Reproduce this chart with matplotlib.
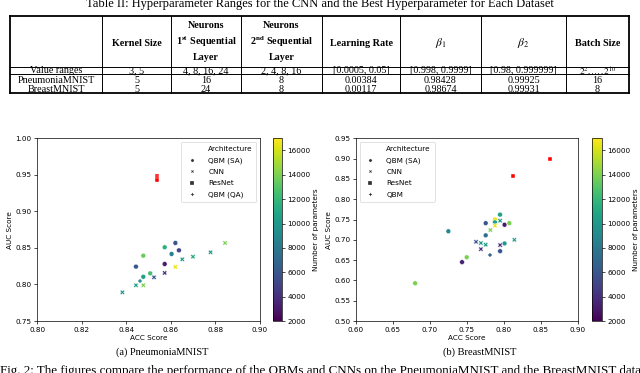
import matplotlib
matplotlib.use("Agg")
import matplotlib.pyplot as plt
from matplotlib.lines import Line2D

plt.rcParams["mathtext.fontset"] = "stix"

# ---- table contents ----
table_title = "Table II: Hyperparameter Ranges for the CNN and the Best Hyperparameter for Each Dataset"
header_lines = [
    [],
    ["Kernel Size"],
    ["Neurons", r"1$^{\mathbf{st}}$ Sequential", "Layer"],
    ["Neurons", r"2$^{\mathbf{nd}}$ Sequential", "Layer"],
    ["Learning Rate"],
    [r"$\beta_1$"],
    [r"$\beta_2$"],
    ["Batch Size"],
]
range_row = ["Value ranges", "3, 5", "4, 8, 16, 24", "2, 4, 8, 16", "[0.0005, 0.05]",
             "[0.998, 0.9999]", "[0.98, 0.999999]", r"$2^2,\ldots,2^{10}$"]
pneumonia_row = ["PneumoniaMNIST", "5", "16", "8", "0.00384", "0.98428", "0.99925", "16"]
breast_row = ["BreastMNIST", "5", "24", "8", "0.00117", "0.98674", "0.99931", "8"]

# ---- PneumoniaMNIST scores ----
pn_sa_acc = [0.8443, 0.8476, 0.8476, 0.8507, 0.8572, 0.8572, 0.8603, 0.8620, 0.8636]
pn_sa_auc = [0.8244, 0.8394, 0.8105, 0.8152, 0.8509, 0.8280, 0.8417, 0.8568, 0.8467]
pn_sa_par = [6000, 13500, 10500, 12500, 11500, 3000, 8500, 6000, 5000]

pn_cnn_acc = [0.8382, 0.8443, 0.8476, 0.8524, 0.8572, 0.8620, 0.8651, 0.8699, 0.8778, 0.8843]
pn_cnn_auc = [0.7892, 0.7989, 0.7989, 0.8098, 0.8158, 0.8240, 0.8344, 0.8380, 0.8440, 0.8568]
pn_cnn_par = [10000, 10500, 14000, 6000, 4000, 16500, 10000, 11000, 10000, 14000]

pn_res_acc = [0.8539, 0.8539, 0.8539]
pn_res_auc = [0.948, 0.945, 0.943]

pn_qa_acc = [0.8461]
pn_qa_auc = [0.8051]
pn_qa_par = [9500]

# ---- BreastMNIST scores ----
br_sa_acc = [0.7949, 0.788, 0.788, 0.7755, 0.801, 0.8075, 0.7755, 0.801, 0.795, 0.7498, 0.7435, 0.725, 0.680]
br_sa_auc = [0.762, 0.750, 0.743, 0.741, 0.737, 0.741, 0.711, 0.691, 0.672, 0.657, 0.645, 0.721, 0.593]
br_sa_par = [10500, 16500, 10500, 6000, 3000, 14000, 7500, 10000, 6000, 14000, 3500, 9000, 14000]

br_cnn_acc = [0.795, 0.788, 0.7818, 0.7624, 0.769, 0.7755, 0.769, 0.795, 0.8143]
br_cnn_auc = [0.747, 0.735, 0.724, 0.695, 0.692, 0.688, 0.677, 0.687, 0.700]
br_cnn_par = [10000, 16500, 14000, 6000, 10000, 10000, 4000, 4000, 10500]

br_res_acc = [0.862, 0.812]
br_res_auc = [0.900, 0.857]

br_qa_acc = [0.7818]
br_qa_auc = [0.663]
br_qa_par = [7000]

W, H = 640, 373
fig = plt.figure(figsize=(6.4, 3.73), dpi=100)

# overlay in pixel coordinates for table and captions
ov = fig.add_axes([0, 0, 1, 1])
ov.set_xlim(0, W)
ov.set_ylim(H, 0)
ov.axis("off")

serif = "Liberation Serif"
fs_tab = 7.3
col_x = [10, 102, 171, 241, 322, 400, 481, 566, 629]
row_y = [16, 67.3, 74.3, 93.3]

ov.text(320, 6.5, table_title, fontsize=9, family=serif, ha="center", va="baseline")

for i, x in enumerate(col_x):
    lw = 1.3 if i in (0, len(col_x) - 1) else 0.7
    ov.plot([x, x], [row_y[0], row_y[-1]], color="black", lw=lw)
for j, y in enumerate(row_y):
    lw = 1.3 if j in (0, len(row_y) - 1) else 0.7
    ov.plot([col_x[0], col_x[-1]], [y, y], color="black", lw=lw)

centers = [(col_x[i] + col_x[i + 1]) / 2 for i in range(len(col_x) - 1)]
for cx, lines in zip(centers, header_lines):
    if len(lines) == 1:
        ov.text(cx, 43, lines[0], fontsize=fs_tab + (1 if "beta" in lines[0] else 0),
                family=serif, fontweight="bold", ha="center", va="center")
    else:
        for ly, t in zip([26, 42, 57], lines):
            ov.text(cx, ly, t, fontsize=fs_tab, family=serif, fontweight="bold",
                    ha="center", va="center")
for k, (cx, a, b, c) in enumerate(zip(centers, range_row, pneumonia_row, breast_row)):
    ov.text(cx, 71.5 if k == 7 else 70.5, a, fontsize=6.6 if k == 7 else fs_tab,
            family=serif, ha="center", va="center")
    ov.text(cx, 80.7, b, fontsize=fs_tab, family=serif, ha="center", va="center")
    ov.text(cx, 89, c, fontsize=fs_tab, family=serif, ha="center", va="center")

ov.text(162, 352.5, "(a) PneumoniaMNIST", fontsize=7.5, family=serif, ha="center", va="center")
ov.text(479.5, 352.5, "(b) BreastMNIST", fontsize=7.5, family=serif, ha="center", va="center")
ov.text(0, 365, "Fig. 2: The figures compare the performance of the QBMs and CNNs on the "
        "PneumoniaMNIST and the BreastMNIST data", fontsize=9.4, family=serif,
        ha="left", va="top")

fs = 5.2
norm_kw = dict(cmap="viridis", vmin=2000, vmax=17000, s=12, edgecolors="white", linewidths=0.3)


def panel(rect, crect, sa, cnn, res, qa, xlim, ylim, xticks, yticks, qa_name, loc):
    ax = fig.add_axes([rect[0] / W, 1 - rect[3] / H, (rect[2] - rect[0]) / W, (rect[3] - rect[1]) / H])
    sc = ax.scatter(sa[0], sa[1], c=sa[2], marker="o", **norm_kw)
    ax.scatter(cnn[0], cnn[1], c=cnn[2], marker="X", **norm_kw)
    ax.scatter(res[0], res[1], color="red", marker="s", s=10, edgecolors="white", linewidths=0.3)
    ax.scatter(qa[0], qa[1], c=qa[2], marker="P", **norm_kw)
    ax.set_xlim(*xlim)
    ax.set_ylim(*ylim)
    ax.set_xticks(xticks)
    ax.set_yticks(yticks)
    ax.tick_params(labelsize=fs, length=2.5, width=0.5, pad=1.5)
    for sp in ax.spines.values():
        sp.set_linewidth(0.5)
    ax.set_xlabel("ACC Score", fontsize=fs, labelpad=2)
    ax.set_ylabel("AUC Score", fontsize=fs, labelpad=2)

    handles = [Line2D([], [], linestyle="none")]
    for m in ["o", "X", "s", "P"]:
        handles.append(Line2D([], [], linestyle="none", marker=m, markersize=2.3,
                              color="#333333", markeredgecolor="white", markeredgewidth=0.2))
    leg = ax.legend(handles, ["Architecture", "QBM (SA)", "CNN", "ResNet", qa_name],
                    loc=loc, fontsize=fs, frameon=True, handletextpad=1.2,
                    borderpad=0.5, labelspacing=0.75, borderaxespad=0.5)
    leg.get_frame().set_linewidth(0.5)

    cax = fig.add_axes([crect[0] / W, 1 - rect[3] / H, (crect[1] - crect[0]) / W, (rect[3] - rect[1]) / H])
    cb = fig.colorbar(sc, cax=cax)
    cb.set_ticks(range(2000, 17000, 2000))
    cb.ax.tick_params(labelsize=fs, length=2.5, width=0.5, pad=1.5)
    cb.outline.set_linewidth(0.5)
    cb.set_label("Number of parameters", fontsize=fs, labelpad=2)


panel([37.3, 138.3, 260, 321], [272.7, 281.7],
      (pn_sa_acc, pn_sa_auc, pn_sa_par), (pn_cnn_acc, pn_cnn_auc, pn_cnn_par),
      (pn_res_acc, pn_res_auc), (pn_qa_acc, pn_qa_auc, pn_qa_par),
      (0.80, 0.90), (0.75, 1.00), [0.80, 0.82, 0.84, 0.86, 0.88, 0.90],
      [0.75, 0.80, 0.85, 0.90, 0.95, 1.00], "QBM (QA)", "upper right")

panel([356, 138.3, 577.7, 321], [591.7, 601.7],
      (br_sa_acc, br_sa_auc, br_sa_par), (br_cnn_acc, br_cnn_auc, br_cnn_par),
      (br_res_acc, br_res_auc), (br_qa_acc, br_qa_auc, br_qa_par),
      (0.60, 0.90), (0.50, 0.95), [0.60, 0.65, 0.70, 0.75, 0.80, 0.85, 0.90],
      [0.50, 0.55, 0.60, 0.65, 0.70, 0.75, 0.80, 0.85, 0.90, 0.95], "QBM", "upper left")

fig.savefig("out.png", dpi=100)
